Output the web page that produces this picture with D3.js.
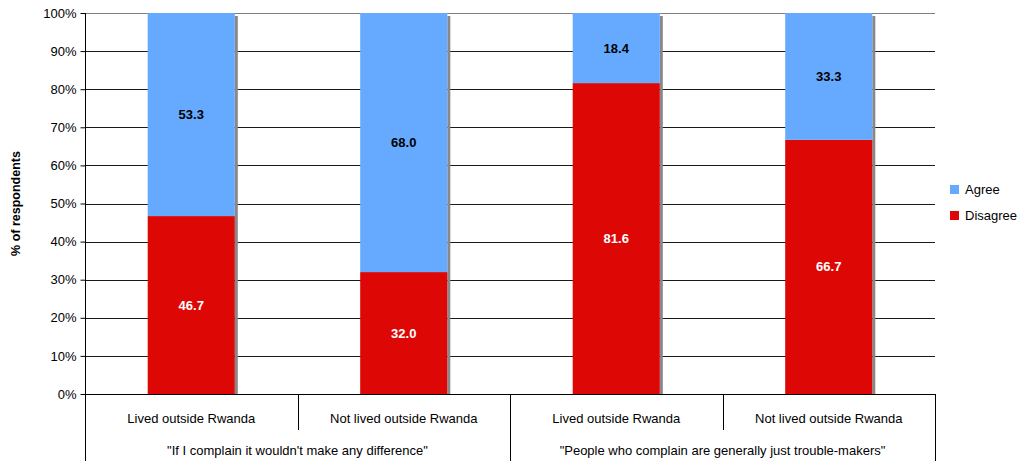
<!DOCTYPE html>
<html>
<head>
<meta charset="utf-8">
<script src="https://cdn.jsdelivr.net/npm/d3@7"></script>
<style>
  html, body { margin: 0; padding: 0; background: #fff; }
  svg { display: block; font-family: "Liberation Sans Narrow", "Liberation Sans", Arial, sans-serif; }
</style>
</head>
<body>
<svg id="chart" width="1017" height="461"></svg>
<script>
// Stacked 100% bars, two statements split by respondent group
const subCategories = ["Lived outside Rwanda", "Not lived outside Rwanda", "Lived outside Rwanda", "Not lived outside Rwanda"];
const groups = ["\"If I complain it wouldn't make any difference\"", "\"People who complain are generally just trouble-makers\""];
const disagree = [46.7, 32.0, 81.6, 66.7];
const agree = [53.3, 68.0, 18.4, 33.3];
const seriesNames = ["Agree", "Disagree"];
const yTicks = [0, 10, 20, 30, 40, 50, 60, 70, 80, 90, 100];

const colors = { Agree: "#66aaff", Disagree: "#dd0806" };

const svg = d3.select("#chart");
const plotLeft = 85, plotRight = 935, plotTop = 13, plotBottom = 394;

const x = d3.scaleBand().domain(d3.range(subCategories.length)).range([plotLeft, plotRight]).paddingInner(0.59).paddingOuter(0.295);
const y = d3.scaleLinear().domain([0, 100]).range([plotBottom, plotTop]);

// gridlines
svg.append("g").selectAll("line").data(yTicks).join("line")
  .attr("x1", plotLeft).attr("x2", plotRight)
  .attr("y1", d => Math.round(y(d)) + 0.5).attr("y2", d => Math.round(y(d)) + 0.5)
  .attr("stroke", d => d === 100 ? "#808080" : "#1a1a1a").attr("stroke-width", 1);

// y axis
const yAxis = svg.append("g").attr("transform", `translate(${plotLeft + 0.5},0)`)
  .call(d3.axisLeft(y).tickValues(yTicks).tickFormat(d => d + "%").tickSize(5).tickPadding(4));
yAxis.select(".domain").remove();
yAxis.selectAll("text").attr("font-size", 13).attr("fill", "#000");
yAxis.selectAll("line").attr("stroke", "#000");
svg.append("line").attr("x1", plotLeft + 0.5).attr("x2", plotLeft + 0.5).attr("y1", plotTop).attr("y2", 461).attr("stroke", "#000");

svg.append("text")
  .attr("transform", `translate(20,${(plotTop + plotBottom) / 2}) rotate(-90)`)
  .attr("text-anchor", "middle")
  .attr("font-size", 12.5).attr("font-weight", "bold")
  .text("% of respondents");

// stacked bars with a drop shadow on the right edge
const stackData = subCategories.map((c, i) => ({ i, Disagree: disagree[i], Agree: agree[i] }));
const stack = d3.stack().keys(["Disagree", "Agree"])(stackData);
const bw = x.bandwidth();

svg.append("g").selectAll("rect").data(stackData).join("rect")
  .attr("x", d => x(d.i) + bw).attr("width", 3)
  .attr("y", y(100) + 3).attr("height", y(0) - y(100) - 3)
  .attr("fill", "#888");

stack.forEach(s => {
  const g = svg.append("g");
  g.selectAll("rect").data(s).join("rect")
    .attr("x", d => x(d.data.i)).attr("width", bw)
    .attr("y", d => y(d[1])).attr("height", d => y(d[0]) - y(d[1]))
    .attr("fill", colors[s.key]);
  g.selectAll("text").data(s).join("text")
    .attr("x", d => x(d.data.i) + bw / 2)
    .attr("y", d => (y(d[0]) + y(d[1])) / 2 + 4.5)
    .attr("text-anchor", "middle")
    .attr("font-size", 13).attr("font-weight", "bold")
    .attr("fill", s.key === "Agree" ? "#000" : "#fff")
    .text(d => (d[1] - d[0]).toFixed(1));
});

// x axis baseline and two-level category labels
svg.append("line").attr("x1", plotLeft).attr("x2", plotRight).attr("y1", plotBottom + 0.5).attr("y2", plotBottom + 0.5).attr("stroke", "#000");
const step = x.step();
const sepX = i => Math.round(plotLeft + step * i) + 0.5;
[1, 3].forEach(i => svg.append("line").attr("x1", sepX(i)).attr("x2", sepX(i)).attr("y1", plotBottom).attr("y2", 430).attr("stroke", "#000"));
[2, 4].forEach(i => svg.append("line").attr("x1", sepX(i)).attr("x2", sepX(i)).attr("y1", plotBottom).attr("y2", 461).attr("stroke", "#000"));

svg.append("g").selectAll("text").data(subCategories).join("text")
  .attr("x", (d, i) => plotLeft + step * (i + 0.5))
  .attr("y", 423).attr("text-anchor", "middle").attr("font-size", 13)
  .text(d => d);

svg.append("g").selectAll("text").data(groups).join("text")
  .attr("x", (d, i) => plotLeft + step * (2 * i + 1))
  .attr("y", 455).attr("text-anchor", "middle").attr("font-size", 13)
  .text(d => d);

// legend
const legend = svg.append("g").selectAll("g").data(seriesNames).join("g")
  .attr("transform", (d, i) => `translate(950,${185 + i * 26})`);
legend.append("rect").attr("width", 9).attr("height", 9).attr("fill", d => colors[d]);
legend.append("text").attr("x", 15).attr("y", 9).attr("font-size", 13).text(d => d);
</script>
</body>
</html>
